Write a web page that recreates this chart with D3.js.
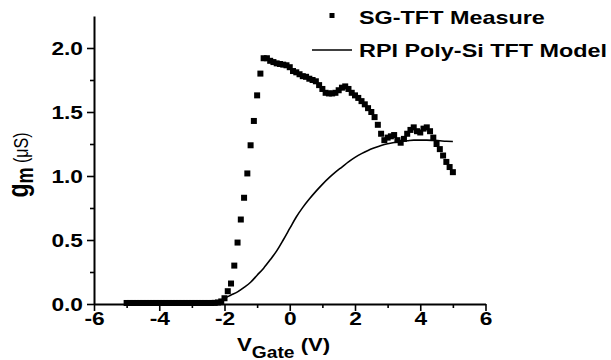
<!DOCTYPE html>
<html>
<head>
<meta charset="utf-8">
<script src="https://cdn.jsdelivr.net/npm/d3@7"></script>
<style>
  html, body { margin: 0; padding: 0; background: #fff; }
  svg { display: block; }
  text { font-family: "Liberation Sans", Arial, sans-serif; fill: #000; }
</style>
</head>
<body>
<svg id="chart" width="611" height="360"></svg>
<script>
// ---- Data ----
const measureV = [-5.0,-4.9,-4.8,-4.7,-4.6,-4.5,-4.4,-4.3,-4.2,-4.1,-4.0,-3.9,-3.8,-3.7,-3.6,-3.5,-3.4,-3.3,-3.2,-3.1,
  -3.0,-2.9,-2.8,-2.7,-2.6,-2.5,-2.4,-2.3,-2.2,-2.1,-2.0,-1.9,-1.8,-1.7,-1.6,-1.5,-1.4,-1.3,-1.2,-1.1,
  -1.0,-0.9,-0.8,-0.7,-0.6,-0.5,-0.4,-0.3,-0.2,-0.1,0.0,0.1,0.2,0.3,0.4,0.5,0.6,0.7,0.8,0.9,
  1.0,1.1,1.2,1.3,1.4,1.5,1.6,1.7,1.8,1.9,2.0,2.1,2.2,2.3,2.4,2.5,2.6,2.7,2.8,2.9,
  3.0,3.1,3.2,3.3,3.4,3.5,3.6,3.7,3.8,3.9,4.0,4.1,4.2,4.3,4.4,4.5,4.6,4.7,4.8,4.9,5.0];
const measureGm = [0.008,0.008,0.008,0.008,0.008,0.008,0.008,0.008,0.008,0.008,0.008,0.008,0.008,0.008,0.008,0.008,0.008,0.008,0.008,0.008,
  0.008,0.008,0.008,0.008,0.008,0.008,0.008,0.009,0.012,0.02,0.045,0.10,0.16,0.30,0.48,0.66,0.83,1.02,1.24,1.43,
  1.63,1.80,1.92,1.92,1.90,1.89,1.88,1.875,1.87,1.865,1.85,1.82,1.81,1.795,1.78,1.775,1.76,1.75,1.74,1.71,
  1.68,1.65,1.645,1.645,1.65,1.67,1.69,1.70,1.68,1.65,1.63,1.61,1.585,1.56,1.53,1.50,1.46,1.40,1.33,1.28,
  1.30,1.31,1.32,1.28,1.26,1.29,1.33,1.36,1.38,1.35,1.34,1.37,1.38,1.35,1.30,1.25,1.21,1.16,1.11,1.07,1.03];

const modelV = [-5.0,-4.0,-3.0,-2.6,-2.4,-2.2,-2.0,-1.8,-1.6,-1.4,-1.2,-1.0,-0.8,-0.6,-0.4,-0.2,0.0,0.2,0.4,0.6,0.8,
  1.0,1.2,1.4,1.6,1.8,2.0,2.2,2.4,2.6,2.8,3.0,3.2,3.4,3.6,3.8,4.0,4.2,4.4,4.6,4.8,5.0];
const modelGm = [0.002,0.002,0.003,0.005,0.008,0.018,0.045,0.07,0.095,0.13,0.17,0.225,0.28,0.345,0.415,0.50,0.59,0.68,0.755,0.82,0.88,
  0.935,0.985,1.03,1.07,1.11,1.145,1.175,1.20,1.22,1.238,1.252,1.262,1.27,1.275,1.28,1.28,1.28,1.278,1.275,1.272,1.27];

const xMajorTicks = [-6,-4,-2,0,2,4,6];
const xMinorTicks = [-5,-3,-1,1,3,5];
const yMajorTicks = [0.0,0.5,1.0,1.5,2.0];
const yMinorTicks = [0.25,0.75,1.25,1.75];
const seriesNames = ["SG-TFT Measure", "RPI Poly-Si TFT Model"];

// ---- Layout ----
const SX = 1.3; // horizontal text stretch
const svg = d3.select("#chart");
const x = d3.scaleLinear().domain([-6, 6]).range([94, 485.5]);
const y = d3.scaleLinear().domain([0, 2.25]).range([304, 16]);

function stretch(sel, sx) {
  sel.each(function() {
    const t = d3.select(this);
    const tx = +t.attr("x") || 0, ty = +t.attr("y") || 0;
    t.attr("transform", `translate(${tx},${ty}) scale(${sx},1)`).attr("x", 0).attr("y", 0);
  });
}

// ---- Axes ----
const gx = svg.append("g").attr("transform", `translate(0,${y(0)})`);
gx.call(d3.axisBottom(x).tickValues(xMajorTicks).tickFormat(d => String(d)).tickSize(7).tickSizeOuter(0).tickPadding(2));
const gxm = svg.append("g").attr("transform", `translate(0,${y(0)})`);
gxm.call(d3.axisBottom(x).tickValues(xMinorTicks).tickFormat("").tickSize(4).tickSizeOuter(0));
gxm.select(".domain").remove();

const gy = svg.append("g").attr("transform", `translate(${x(-6)},0)`);
gy.call(d3.axisLeft(y).tickValues(yMajorTicks).tickFormat(d => d.toFixed(1)).tickSize(7).tickSizeOuter(0).tickPadding(4));
const gym = svg.append("g").attr("transform", `translate(${x(-6)},0)`);
gym.call(d3.axisLeft(y).tickValues(yMinorTicks).tickFormat("").tickSize(4).tickSizeOuter(0));
gym.select(".domain").remove();

svg.selectAll(".domain").attr("stroke", "#000").attr("stroke-width", 2);
svg.selectAll(".tick line").attr("stroke", "#000").attr("stroke-width", 1.6);
svg.selectAll(".tick text")
  .attr("font-family", "Liberation Sans, Arial, sans-serif")
  .attr("font-size", 17.5).attr("font-weight", "bold").attr("fill", "#000");
gy.selectAll(".tick text").attr("dy", "0.36em");
stretch(gx.selectAll(".tick text"), SX);
stretch(gy.selectAll(".tick text"), SX);

// ---- Model line ----
const modelData = modelV.map((v, i) => [v, modelGm[i]]);
svg.append("path")
  .datum(modelData)
  .attr("fill", "none").attr("stroke", "#000").attr("stroke-width", 1.6)
  .attr("d", d3.line().x(d => x(d[0])).y(d => y(d[1])).curve(d3.curveMonotoneX));

// ---- Measured squares ----
const measData = measureV.map((v, i) => [v, measureGm[i]]);
const SQ = 6;
svg.append("g").selectAll("rect").data(measData).join("rect")
  .attr("x", d => x(d[0]) - SQ / 2).attr("y", d => y(d[1]) - SQ / 2)
  .attr("width", SQ).attr("height", SQ).attr("fill", "#000");

// ---- Legend ----
const lg = svg.append("g");
lg.append("rect").attr("x", 329.5).attr("y", 13).attr("width", 5).attr("height", 5).attr("fill", "#000");
lg.append("text").attr("x", 359).attr("y", 24).text(seriesNames[0]);
lg.append("line").attr("x1", 312).attr("x2", 352).attr("y1", 50).attr("y2", 50)
  .attr("stroke", "#000").attr("stroke-width", 1.6);
lg.append("text").attr("x", 359).attr("y", 57).text(seriesNames[1]);
lg.selectAll("text").attr("font-size", 18).attr("font-weight", "bold");
stretch(lg.selectAll("text"), SX);

// ---- X title ----
const xt = svg.append("text").attr("font-weight", "bold")
  .attr("transform", `translate(237,351) scale(1.2,1)`);
xt.append("tspan").attr("font-size", 18.5).text("V");
xt.append("tspan").attr("font-size", 16).attr("dy", 6.5).text("Gate");
xt.append("tspan").attr("font-size", 18.5).attr("dy", -6.5).text(" (V)");

// ---- Y title ----
const yt = svg.append("text").attr("text-anchor", "middle")
  .attr("transform", `translate(28,165) rotate(-90) scale(1,1.3)`);
yt.append("tspan").attr("font-size", 23).attr("font-weight", "bold").text("g");
yt.append("tspan").attr("font-size", 18).attr("font-weight", "bold").attr("dy", 4.2).text("m");
yt.append("tspan").attr("font-size", 16).attr("dy", -4.2).text(" (\u03BCS)");
</script>
</body>
</html>
